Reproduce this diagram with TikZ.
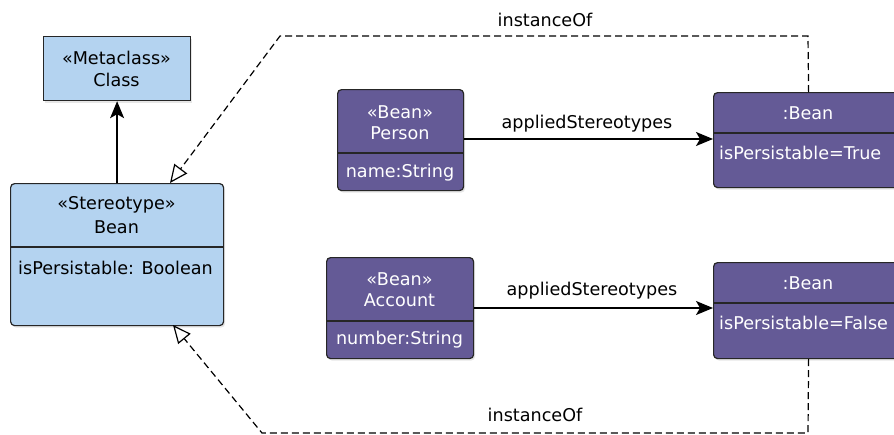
\documentclass[tikz,border=0pt]{standalone}
\usepackage{fontspec}
\setmainfont{DejaVu Sans}
\usetikzlibrary{arrows.meta,shadows}
\definecolor{lblue}{HTML}{B4D3F0}
\definecolor{purp}{HTML}{645A96}
\tikzset{
  ubox/.style={draw=black!85, line width=1.2pt, inner sep=0pt, anchor=north west,
    drop shadow={opacity=0.2, shadow xshift=1.5pt, shadow yshift=-2pt}},
  bluebox/.style={ubox, fill=lblue},
  purpbox/.style={ubox, fill=purp, rounded corners=4pt},
  divider/.style={draw=black!85, line width=1.2pt},
  btxt/.style={font=\fontsize{17.6}{20}\selectfont, text=black, inner sep=0pt},
  wtxt/.style={font=\fontsize{17.6}{20}\selectfont, text=white, inner sep=0pt},
  lbl/.style={font=\fontsize{17.6}{20}\selectfont, text=black, inner sep=0pt},
  inst/.style={draw=black, line width=1.2pt, dash pattern=on 7pt off 4pt,
    -{Triangle[open, length=18pt, width=16pt]}},
  assoc/.style={draw=black, line width=1.3pt, -{Stealth[length=17pt, width=14pt, inset=4pt]}},
}
\begin{document}
\begin{tikzpicture}[x=1pt, y=-1pt]
\useasboundingbox (0,0) rectangle (894,434);
\clip (0,0) rectangle (894,434);

% Metaclass
\node[bluebox, minimum width=147pt, minimum height=64pt] (class) at (43,36) {};
\node[btxt] (classt1) at (116.5,58) {«Metaclass»};
\node[btxt] (classt2) at (116.5,80) {Class};

% Stereotype Bean
\node[bluebox, rounded corners=4pt, minimum width=213pt, minimum height=142pt] (stereo) at (10,183) {};
\draw[divider] (10,247) -- (223,247);
\node[btxt] (st1) at (116.5,205) {«Stereotype»};
\node[btxt] (st2) at (116.5,227) {Bean};
\node[btxt, anchor=west] (st3) at (18,268) {isPersistable: Boolean};

% Person
\node[purpbox, minimum width=126pt, minimum height=101pt] (person) at (337,89) {};
\draw[divider] (337,153) -- (463,153);
\node[wtxt] (p1) at (400,112) {«Bean»};
\node[wtxt] (p2) at (400,133) {Person};
\node[wtxt] (p3) at (400,173) {name:String};

% Account
\node[purpbox, minimum width=147pt, minimum height=101pt] (account) at (326,257) {};
\draw[divider] (326,321) -- (473,321);
\node[wtxt] (a1) at (399.5,279) {«Bean»};
\node[wtxt] (a2) at (399.5,300) {Account};
\node[wtxt] (a3) at (399.5,340) {number:String};

% :Bean True
\node[purpbox, minimum width=190pt, minimum height=95pt] (btrue) at (713,92) {};
\draw[divider] (713,133) -- (903,133);
\node[wtxt] (t1) at (808,113) {:Bean};
\node[wtxt, anchor=west] (t2) at (719,153) {isPersistable=True};

% :Bean False
\node[purpbox, minimum width=190pt, minimum height=96pt] (bfalse) at (713,262) {};
\draw[divider] (713,303) -- (903,303);
\node[wtxt] (f1) at (808,283) {:Bean};
\node[wtxt, anchor=west] (f2) at (719,323) {isPersistable=False};

% Bean -> Class
\draw[assoc] (stereo.north) -- (class.south);

% appliedStereotypes
\draw[assoc] (person.east |- 0,139) -- (btrue.west |- 0,139);
\node[lbl] (as1) at (587,124) {appliedStereotypes};
\draw[assoc] (account.east |- 0,308) -- (bfalse.west |- 0,308);
\node[lbl] (as2) at (592,291) {appliedStereotypes};

% instanceOf top
\coordinate (ttop) at (808,36);
\coordinate (tleft) at (280,36);
\coordinate (thead) at (170,183);
\draw[inst] (btrue.north) -- (ttop) -- (tleft) -- (thead);
\node[lbl] (io1) at (545,20) {instanceOf};

% instanceOf bottom
\coordinate (bbot) at (808,433);
\coordinate (bleft) at (262,433);
\coordinate (bhead) at (173,325);
\draw[inst] (bfalse.south) -- (bbot) -- (bleft) -- (bhead);
\node[lbl] (io2) at (535,415) {instanceOf};
\end{tikzpicture}
\end{document}
